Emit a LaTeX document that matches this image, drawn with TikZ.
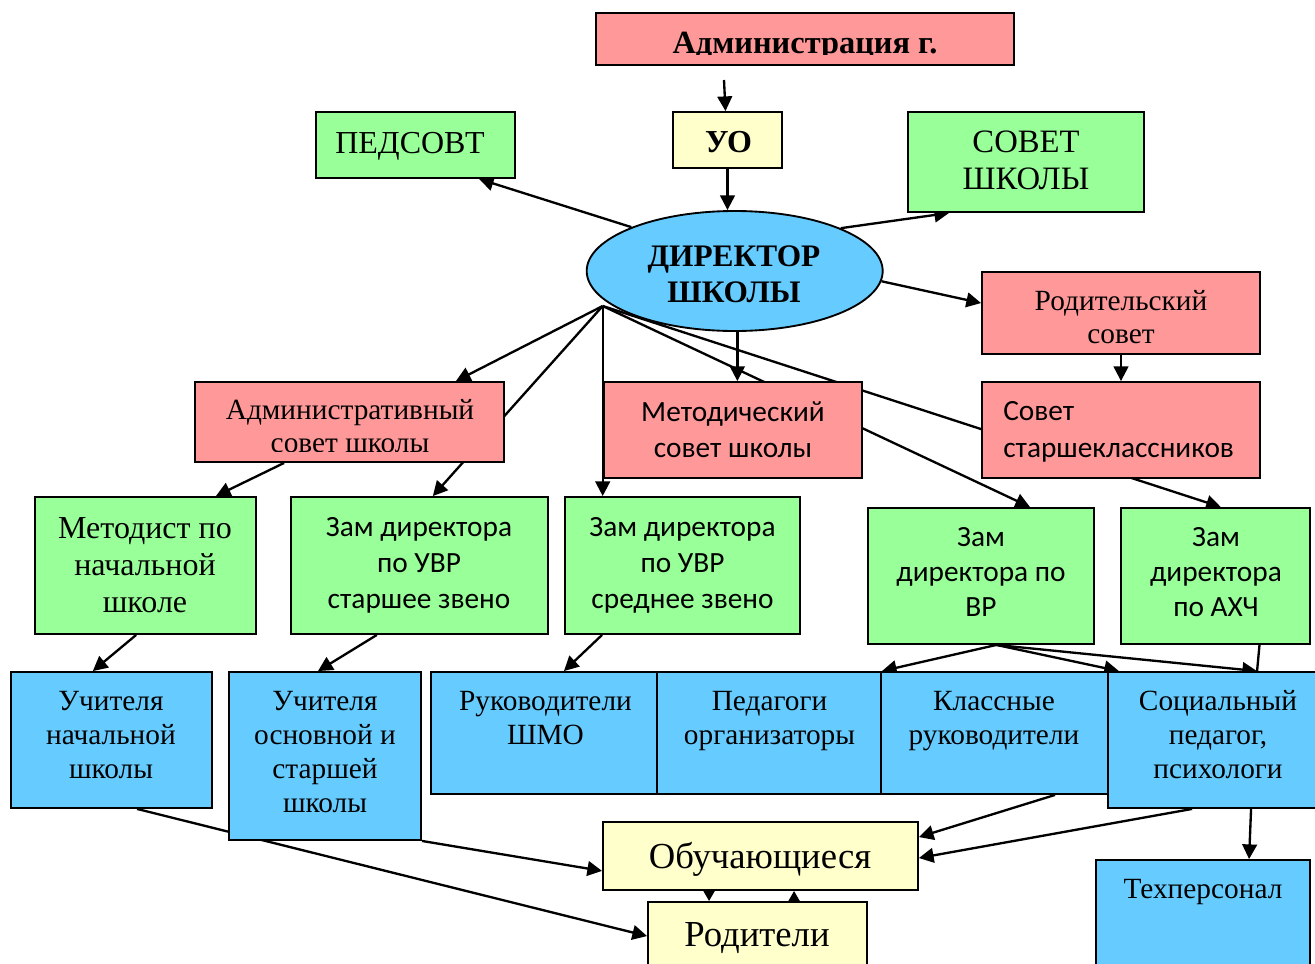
\documentclass[tikz,border=0pt]{standalone}
\usepackage{fontspec}
\setmainfont{Liberation Serif}
\newfontfamily\tnr{Liberation Serif}
\newfontfamily\calib{Carlito}
\usetikzlibrary{arrows.meta,calc,backgrounds,shapes.geometric}
\definecolor{cpink}{HTML}{FF9999}
\definecolor{cgreen}{HTML}{99FF99}
\definecolor{cblue}{HTML}{66CCFF}
\definecolor{cyell}{HTML}{FFFFCC}
\tikzset{
  boxst/.style={draw=black, line width=1.4pt, inner sep=0pt, rectangle},
  txt/.style={inner sep=0pt, align=center, anchor=north},
  arr/.style={line width=1.75pt, -{Triangle[length=11pt,width=11pt]}},
  sarr/.style={line width=1.75pt, -{Triangle[length=9pt,width=9.75pt]}},
  ln/.style={line width=1.75pt},
  fadm/.style={font={\tnr\bfseries\fontsize{24.3pt}{29pt}\selectfont}},
  fuo/.style={font={\tnr\bfseries\fontsize{24pt}{28.8pt}\selectfont}},
  fped/.style={font={\tnr\fontsize{24pt}{28.8pt}\selectfont}},
  fsov/.style={font={\tnr\fontsize{24.5pt}{27.5pt}\selectfont}},
  fdir/.style={font={\tnr\bfseries\fontsize{23.5pt}{27pt}\selectfont}},
  frod/.style={font={\tnr\fontsize{22pt}{24.75pt}\selectfont}},
  fadms/.style={font={\tnr\fontsize{22pt}{24.75pt}\selectfont}},
  fmets/.style={font={\calib\fontsize{22pt}{27pt}\selectfont}},
  fstar/.style={font={\calib\fontsize{22pt}{27.5pt}\selectfont}},
  fmetod/.style={font={\tnr\fontsize{24pt}{27.75pt}\selectfont}},
  fzam/.style={font={\calib\fontsize{22pt}{27pt}\selectfont}},
  fvr/.style={font={\calib\fontsize{22pt}{26.25pt}\selectfont}},
  fblue/.style={font={\tnr\fontsize{22pt}{25.5pt}\selectfont}},
  fbig/.style={font={\tnr\fontsize{27.5pt}{33pt}\selectfont}},
}
\newcommand\mkbox[6]{%
  \node[boxst, fill=#2, minimum width={(#5-#3)*0.75pt}, minimum height={(#6-#4)*0.75pt}] (#1) at ({(#3+#5)/2},{(#4+#6)/2}) {};}
\begin{document}
\begin{tikzpicture}[x=0.75pt,y=-0.75pt]
\useasboundingbox (0,0) rectangle (1315,964);
\clip (0,0) rectangle (1315,964);
% boxes
\mkbox{admcity}{cpink}{596}{13}{1014}{65}
\mkbox{uo}{cyell}{673}{112}{782}{168}
\mkbox{ped}{cgreen}{316}{112}{515}{178}
\mkbox{sovet}{cgreen}{908}{112}{1144}{212}
\node[ellipse, draw=black, line width=1.4pt, fill=cblue, inner sep=0pt,
      minimum width={296*0.75pt}, minimum height={120*0.75pt}] (dir) at (734.7,271) {};
\mkbox{rod}{cpink}{982}{272}{1260}{354}
\mkbox{starsh}{cpink}{982}{382}{1260}{478}
\mkbox{metsov}{cpink}{604}{382}{862}{478}
\mkbox{admsov}{cpink}{195}{382}{504}{462}
\mkbox{metod}{cgreen}{35}{497}{256}{634}
\mkbox{uvrs}{cgreen}{291}{497}{548}{634}
\mkbox{uvrm}{cgreen}{565}{497}{800}{634}
\mkbox{vr}{cgreen}{868}{508}{1094}{644}
\mkbox{ahch}{cgreen}{1121}{508}{1310}{644}
\mkbox{uchn}{cblue}{11}{672}{212}{808}
\mkbox{uchos}{cblue}{229}{672}{421}{840}
\mkbox{shmo}{cblue}{431}{672}{658}{794}
\mkbox{pedorg}{cblue}{657}{672}{881}{794}
\mkbox{klruk}{cblue}{881}{672}{1108}{794}
\mkbox{socped}{cblue}{1108}{672}{1325}{808}
\mkbox{obuch}{cyell}{603}{822}{918}{890}
\mkbox{rodit}{cyell}{648}{902}{867}{980}
\mkbox{tehp}{cblue}{1096}{860}{1310}{980}
% texts
\begin{scope}
\clip (597,14) rectangle (1013,54);
\node[txt,fadm] (admcityt) at (805,26) {\strut Администрация г.};
\end{scope}
\node[txt,fuo] (uot) at (728.5,125.1) {\strut УО};
\node[txt,fped] (pedt) at (410,126.4) {\strut ПЕДСОВТ};
\node[txt,fsov] (sovett) at (1026,127) {\strut СОВЕТ\\ШКОЛЫ};
\node[txt,fdir] (dirt) at (734,241.5) {\strut ДИРЕКТОР\\ШКОЛЫ};
\node[txt,frod] (rodt) at (1121,286.9) {\strut Родительский\\совет};
\node[txt,fstar,align=left,anchor=north west] (starsht) at (1003,395) {\strut Совет\\старшеклассников};
\node[txt,fmets] (metsovt) at (733,396.5) {\strut Методический\\совет школы};
\begin{scope}
\clip (196,383) rectangle (503,451);
\node[txt,fadms] (admsovt) at (350,395.9) {\strut Административный\\совет школы};
\end{scope}
\node[txt,fmetod] (metodt) at (145,512.1) {\strut Методист по\\начальной\\школе};
\node[txt,fzam] (uvrst) at (419,511.5) {\strut Зам директора\\по УВР\\старшее звено};
\node[txt,fzam] (uvrmt) at (682.5,511.5) {\strut Зам директора\\по УВР\\среднее звено};
\node[txt,fvr] (vrt) at (981,522.2) {\strut Зам\\директора по\\ВР};
\node[txt,fvr] (ahcht) at (1216,522.2) {\strut Зам\\директора\\по АХЧ};
\node[txt,fblue] (uchnt) at (111,686.2) {\strut Учителя\\начальной\\школы};
\node[txt,fblue] (uchost) at (325,686.2) {\strut Учителя\\основной и\\старшей\\школы};
\node[txt,fblue] (shmot) at (545.5,686.2) {\strut Руководители\\ШМО};
\node[txt,fblue] (pedorgt) at (769.5,686.2) {\strut Педагоги\\организаторы};
\node[txt,fblue] (klrukt) at (994,686.2) {\strut Классные\\руководители};
\node[txt,fblue] (socpedt) at (1218,686.2) {\strut Социальный\\педагог,\\психологи};
\node[txt,fbig] (obucht) at (760,837.2) {\strut Обучающиеся};
\node[txt,fbig] (roditt) at (757,915.9) {\strut Родители};
\node[txt,fblue] (tehpt) at (1203,874.2) {\strut Техперсонал};
% connectors
\coordinate (c1) at (724,80);
\coordinate (P) at (602.7,306);
\begin{pgfonlayer}{background}
\draw[arr] (c1) -- ([xshift=-1.5pt]uo.north);
\draw[arr] (uo.south) -- (uo.south |- dir.north);
\draw[arr] (dir.157) -- ([xshift=-27.75pt]ped.south east);
\draw[arr] (dir.22) -- ([xshift=31.5pt]sovet.south west);
\draw[arr] (dir.-4) -- ([yshift=-24pt]rod.north west);
\draw[arr] (rod.south) -- (starsh.north);
\draw[arr] ([xshift=2pt]dir.south) -- ([xshift=2pt]dir.south |- metsov.north);
\draw[arr] (P) -- ([xshift=-36.75pt]admsov.north east);
\draw[arr] (P) -- ([xshift=10pt]uvrs.north);
\draw[arr] (P) -- (P |- uvrm.north);
\draw[arr] (P) -- ([xshift=36.75pt]vr.north);
\draw[arr] (P) -- ([xshift=4pt]ahch.north);
\draw[arr] ([xshift=67.5pt]admsov.south west) -- ([xshift=-30.75pt]metod.north east);
\draw[arr] ([xshift=-7pt]metod.south) -- ([xshift=-14pt]uchn.north);
\draw[arr] ([xshift=-32pt]uvrs.south) -- ([xshift=-5.25pt]uchos.north);
\draw[arr] ([xshift=28.5pt]uvrm.south west) -- ([xshift=14.6pt]shmo.north);
\draw[arr] ([xshift=11.5pt]vr.south) -- (pedorg.north east);
\draw[arr] ([xshift=11.5pt]vr.south) -- ([xshift=7.5pt]klruk.north east);
\draw[arr] ([xshift=11.5pt]vr.south) -- ([xshift=112.5pt]socped.north west);
\draw[ln] ([xshift=33pt]ahch.south) -- ([xshift=112.5pt]socped.north west);
\draw[arr] ([xshift=45.4pt]klruk.south) -- ([yshift=-12pt]obuch.north east);
\draw[arr] ([xshift=63.75pt]socped.south west) -- ([yshift=-1.5pt]obuch.east);
\draw[arr] ([xshift=108pt]socped.south west) -- ([xshift=115.5pt]tehp.north west);
\draw[arr] (uchos.south east) -- ([yshift=15pt]obuch.south west);
\draw[arr] ([xshift=95.25pt]uchn.south west) -- ([yshift=-26.25pt]rodit.north west);
\draw[sarr] ([xshift=80.25pt]obuch.south west) -- ([xshift=46.5pt]rodit.north west);
\draw[sarr] ([xshift=110.25pt]rodit.north west) -- ([xshift=144pt]obuch.south west);
\end{pgfonlayer}
\end{tikzpicture}
\end{document}
